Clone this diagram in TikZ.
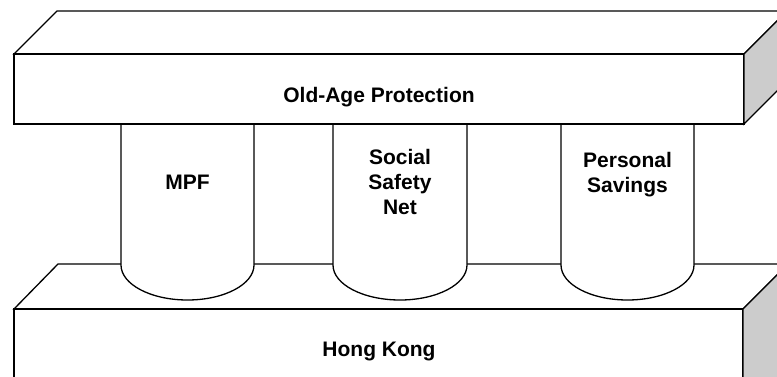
\documentclass[tikz,border=0pt]{standalone}
\usepackage{fontspec}
\setmainfont{Liberation Sans}
\begin{document}
\begin{tikzpicture}[x=1pt,y=-1pt,
  edge/.style={draw=black,line width=1.3pt,line join=miter},
  face/.style={edge,fill=white},
  side/.style={edge,fill=black!20},
  lbl/.style={font=\fontsize{21}{25}\selectfont\bfseries,align=center,inner sep=0pt}]
\useasboundingbox (0,0) rectangle (777,376);
\clip (0,0) rectangle (777,376);
% bottom slab
\path[face] (14,309) -- (58,264) -- (788,264) -- (743,309) -- cycle;
\path[face] (14,309) rectangle (743,420);
\path[side] (743,309) -- (788,264) -- (788,380) -- (743,425) -- cycle;
% pillars
\foreach \l/\r in {121/254, 333/467, 561/694}{
  \path[face] (\l,120) -- (\l,265)
    arc[start angle=180,end angle=0,x radius={(\r-\l)/2},y radius=35]
    -- (\r,120);
}
% top slab
\path[face] (14,54) -- (57,11) -- (787,11) -- (744,54) -- cycle;
\path[face] (14,54) rectangle (744,124);
\path[side] (744,54) -- (787,11) -- (787,81) -- (744,124) -- cycle;
% labels
\node[lbl] (top) at (379,97) {Old-Age Protection};
\node[lbl] (base) at (379,351) {Hong Kong};
\node[lbl] (mpf) at (187.5,182) {MPF};
\node[lbl] (ssn) at (400,182) {Social\\Safety\\Net};
\node[lbl] (ps) at (627.5,174.5) {Personal\\Savings};
\end{tikzpicture}
\end{document}
